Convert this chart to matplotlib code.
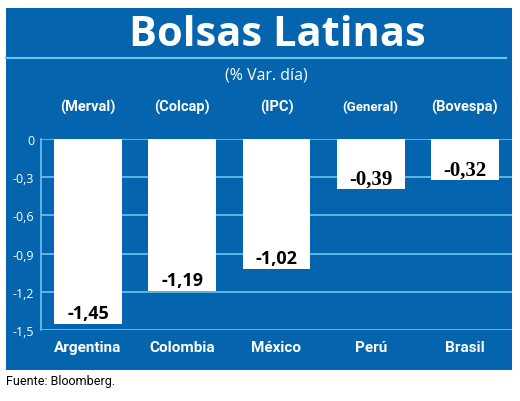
import matplotlib
matplotlib.use("Agg")
import matplotlib.pyplot as plt
from matplotlib.patches import Rectangle
import matplotlib.transforms as mtrans

countries = ["Argentina", "Colombia", "México", "Perú", "Brasil"]
indices = ["(Merval)", "(Colcap)", "(IPC)", "(General)", "(Bovespa)"]
values = [-1.45, -1.19, -1.02, -0.39, -0.32]
value_labels = ["-1,45", "-1,19", "-1,02", "-0,39", "-0,32"]
yticks = [0, -0.3, -0.6, -0.9, -1.2, -1.5]
ytick_labels = ["0", "-0,3", "-0,6", "-0,9", "-1,2", "-1,5"]

W, H = 520, 402
BLUE = "#0564ae"
LIGHT = "#6cc3ef"
NARROW = ["Liberation Sans Narrow", "Roboto", "DejaVu Sans"]

fig = plt.figure(figsize=(W / 100, H / 100), dpi=100)
fig.patch.set_facecolor("white")

def fx(x):
    return x / W

def fy(y):
    return 1 - y / H

# background axes for the blue panel
bg = fig.add_axes([0, 0, 1, 1], zorder=0)
bg.set_xlim(0, W)
bg.set_ylim(H, 0)
bg.axis("off")
bg.add_patch(Rectangle((6, 9), 506, 362, facecolor=BLUE, edgecolor="none"))
bg.plot([6, 506], [59, 59], color=LIGHT, lw=1.5)

ax = fig.add_axes([fx(41), fy(331), fx(512) - fx(41), fy(140) - fy(331)], zorder=2)
ax.set_facecolor("none")
x = list(range(len(countries)))
ax.bar(x, values, width=0.72, color="white", zorder=3)
ax.set_xlim(-0.5, 4.5)
ax.set_ylim(-1.5, 0)
ax.set_yticks(yticks)
ax.set_yticklabels(ytick_labels)
ax.tick_params(axis="y", colors="white", labelsize=9, length=0, pad=5)
ax.set_xticks([])
for t in ax.get_yticklabels():
    t.set_family(["Open Sans", "DejaVu Sans"])
for yv in yticks:
    ax.axhline(yv, color=LIGHT, lw=1.2, zorder=1)
for s in ["top", "right", "bottom"]:
    ax.spines[s].set_visible(False)
ax.spines["left"].set_color(LIGHT)
ax.spines["left"].set_linewidth(1.2)

trans = mtrans.blended_transform_factory(ax.transData, ax.transAxes)
for i, (c, idx, v, lab) in enumerate(zip(countries, indices, values, value_labels)):
    ax.text(i, -0.089, c, transform=trans, ha="center", va="center", color="white",
            fontsize=11, family=NARROW, fontweight="bold")
    ax.text(i, 1.168, idx, transform=trans, ha="center", va="center", color="white",
            fontsize=10.5 if idx != "(General)" else 9.5, family=NARROW, fontweight="bold")
    if i < 3:
        fam, size = ["Open Sans", "DejaVu Sans"], 13
    else:
        fam, size = ["Liberation Serif", "DejaVu Serif"], 15
    ax.annotate(lab, (i, v), xytext=(0, 7.5), textcoords="offset points", ha="center",
                va="center", fontsize=size, fontweight="bold", family=fam, color="black", zorder=5)

fig.text(fx(277), fy(36), "Bolsas Latinas", ha="center", va="center", color="white",
         fontsize=30, fontweight="bold", family=["Open Sans", "DejaVu Sans"])
fig.text(fx(266), fy(75), "(% Var. día)", ha="center", va="center", color="white",
         fontsize=11.5, family=["Open Sans", "DejaVu Sans"])
fig.text(fx(6), fy(382), "Fuente: Bloomberg.", ha="left", va="center", color="black",
         fontsize=9, family=NARROW)

fig.savefig("out.png", dpi=100, facecolor="white")
